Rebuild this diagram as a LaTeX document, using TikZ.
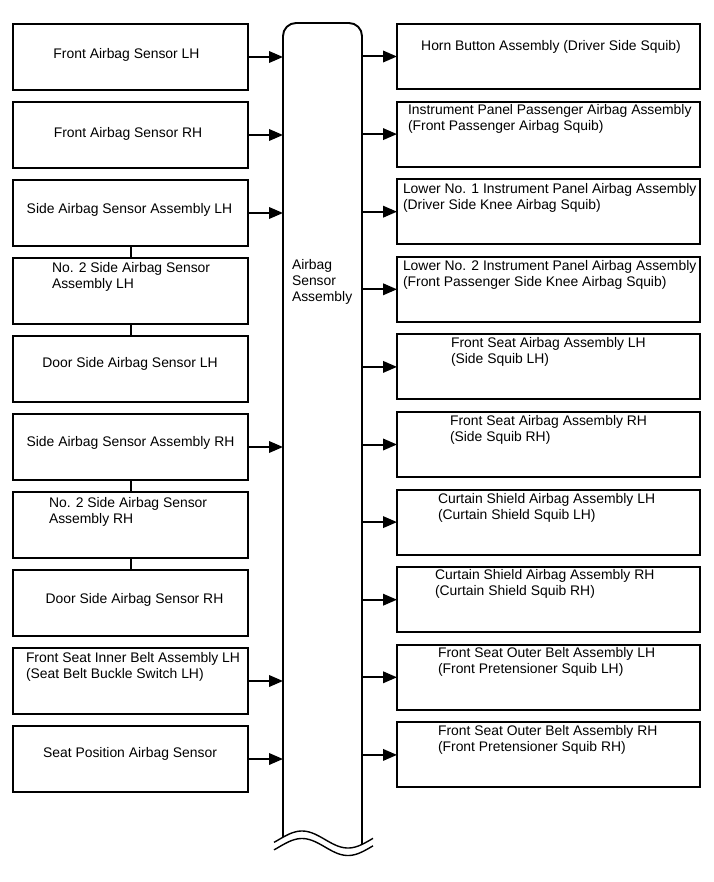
\documentclass[tikz,border=0pt]{standalone}
\usepackage{fontspec}
\setmainfont{Liberation Sans}
\usetikzlibrary{arrows.meta}
\newcommand\twolines[2]{\vtop{\hbox{#1}\hbox{#2}}}
\newcommand\threelines[3]{\vtop{\baselineskip=16.3pt\hbox{#1}\hbox{#2}\hbox{#3}}}
\begin{document}
\begin{tikzpicture}[x=1pt,y=-1pt,
  box/.style={draw=black, line width=1.9pt, inner sep=0pt, outer sep=0pt, anchor=north west},
  lbox/.style={box, minimum width=235pt, minimum height=66pt},
  rbox/.style={box, minimum width=303pt, minimum height=65pt},
  lbl/.style={inner sep=0pt, outer sep=0pt, font=\fontsize{13.9}{16}\selectfont},
  conn/.style={line width=2pt, -{Triangle[length=14pt,width=11.5pt]}},
  link/.style={line width=2pt},
  wave/.style={line width=1.4pt}]
\useasboundingbox (0,0) rectangle (713,882);
% central column
\node[inner sep=0pt, outer sep=0pt, minimum width=79pt, minimum height=815pt, anchor=north west] (col) at (283,23) {};
\draw[line width=1.9pt, rounded corners=13pt] (283,837.2) -- (283,23) -- (362,23) -- (362,844.4);
\draw[wave] plot[domain=274:373, samples=60, smooth] (\x, {839.5-8.5*cos(180*(\x-302)/46)});
\draw[wave] plot[domain=274:373, samples=60, smooth] (\x, {847-8.5*cos(180*(\x-302)/46)});
\node[lbl, anchor=base west] (tcol) at (292,269.3) {\threelines{Airbag}{Sensor}{Assembly}};
% left boxes
\node[lbox] (l1) at (13,24) {};
\node[lbox] (l2) at (13,102) {};
\node[lbox] (l3) at (13,180) {};
\node[lbox] (l4) at (13,258) {};
\node[lbox] (l5) at (13,336) {};
\node[lbox] (l6) at (13,414) {};
\node[lbox] (l7) at (13,492) {};
\node[lbox] (l8) at (13,570) {};
\node[lbox] (l9) at (13,648) {};
\node[lbox] (l10) at (13,726) {};
\node[lbl, anchor=base] (tl1) at (126.5,59) {Front Airbag Sensor LH};
\node[lbl, anchor=base] (tl2) at (128,138) {Front Airbag Sensor RH};
\node[lbl, anchor=base] (tl3) at (129.5,213.3) {Side Airbag Sensor Assembly LH};
\node[lbl, anchor=base west] (tl4) at (52,272.3) {\twolines{No. 2 Side Airbag Sensor}{Assembly LH}};
\node[lbl, anchor=base] (tl5) at (130,367.7) {Door Side Airbag Sensor LH};
\node[lbl, anchor=base] (tl6) at (130.5,446) {Side Airbag Sensor Assembly RH};
\node[lbl, anchor=base west] (tl7) at (49,507.3) {\twolines{No. 2 Side Airbag Sensor}{Assembly RH}};
\node[lbl, anchor=base] (tl8) at (134.5,603.3) {Door Side Airbag Sensor RH};
\node[lbl, anchor=base west] (tl9) at (26,662.3) {\twolines{Front Seat Inner Belt Assembly LH}{(Seat Belt Buckle Switch LH)}};
\node[lbl, anchor=base] (tl10) at (130,757.3) {Seat Position Airbag Sensor};
% right boxes
\node[rbox] (r1) at (397,24) {};
\node[rbox] (r2) at (397,101.6) {};
\node[rbox] (r3) at (397,179.2) {};
\node[rbox] (r4) at (397,256.8) {};
\node[rbox] (r5) at (397,334.4) {};
\node[rbox] (r6) at (397,412) {};
\node[rbox] (r7) at (397,489.6) {};
\node[rbox] (r8) at (397,567.2) {};
\node[rbox] (r9) at (397,644.8) {};
\node[rbox] (r10) at (397,722.4) {};
\node[lbl, anchor=base] (tr1) at (551,50.7) {Horn Button Assembly (Driver Side Squib)};
\node[lbl, anchor=base west] (tr2) at (408,115) {\twolines{Instrument Panel Passenger Airbag Assembly}{(Front Passenger Airbag Squib)}};
\node[lbl, anchor=base west] (tr3) at (403,193.3) {\twolines{Lower No. 1 Instrument Panel Airbag Assembly}{(Driver Side Knee Airbag Squib)}};
\node[lbl, anchor=base west] (tr4) at (403,270) {\twolines{Lower No. 2 Instrument Panel Airbag Assembly}{(Front Passenger Side Knee Airbag Squib)}};
\node[lbl, anchor=base west] (tr5) at (451,347.3) {\twolines{Front Seat Airbag Assembly LH}{(Side Squib LH)}};
\node[lbl, anchor=base west] (tr6) at (450,425.5) {\twolines{Front Seat Airbag Assembly RH}{(Side Squib RH)}};
\node[lbl, anchor=base west] (tr7) at (438,503.3) {\twolines{Curtain Shield Airbag Assembly LH}{(Curtain Shield Squib LH)}};
\node[lbl, anchor=base west] (tr8) at (435,579.3) {\twolines{Curtain Shield Airbag Assembly RH}{(Curtain Shield Squib RH)}};
\node[lbl, anchor=base west] (tr9) at (438,657.7) {\twolines{Front Seat Outer Belt Assembly LH}{(Front Pretensioner Squib LH)}};
\node[lbl, anchor=base west] (tr10) at (438,735.7) {\twolines{Front Seat Outer Belt Assembly RH}{(Front Pretensioner Squib RH)}};
% links between chained sensors
\draw[link] (l3.south) -- (l4.north);
\draw[link] (l4.south) -- (l5.north);
\draw[link] (l6.south) -- (l7.north);
\draw[link] (l7.south) -- (l8.north);
% arrows into the column
\foreach \n in {l1,l2,l3,l6,l9,l10}
  \draw[conn] (\n.east) -- (\n.east -| col.west);
% arrows out of the column
\foreach \n in {r1,r2,r3,r4,r5,r6,r7,r8,r9,r10}
  \draw[conn] (\n.west -| col.east) -- (\n.west);
\end{tikzpicture}
\end{document}
